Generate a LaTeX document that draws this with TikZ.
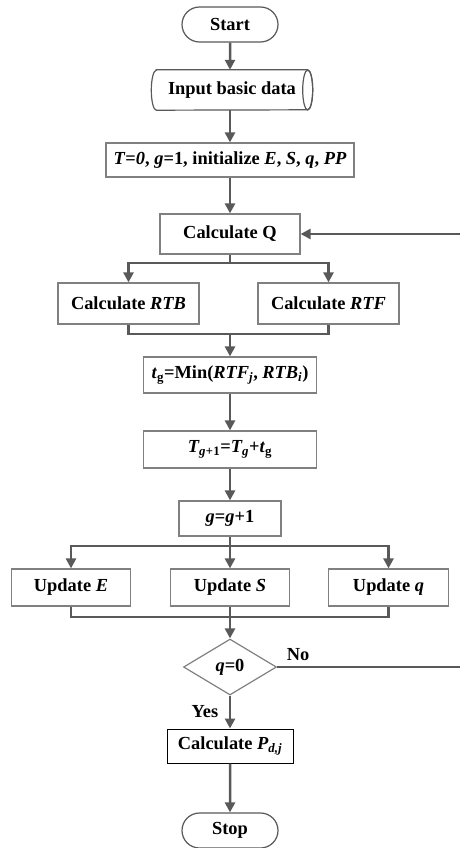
\documentclass[tikz,border=0pt]{standalone}
\usepackage{fontspec}
\setmainfont{Liberation Serif}
\usetikzlibrary{shapes,arrows.meta,positioning}
\definecolor{LineGray}{RGB}{89,89,89}
\definecolor{BoxGray}{RGB}{128,128,128}
\newcommand{\vi}[1]{\textit{#1}}

\begin{document}
\begin{tikzpicture}[x=1pt, y=-1pt,
    font=\fontsize{18.4}{22}\selectfont\bfseries,
    >={Triangle[length=10pt,width=10pt]},
    box/.style={draw=BoxGray, line width=1.2pt, fill=white, inner sep=0pt},
    term/.style={rounded rectangle, draw=LineGray, line width=1.2pt, fill=white,
      minimum width=96pt, minimum height=35pt, inner sep=0pt},
    outline/.style={draw=LineGray, line width=1.2pt},
    flow/.style={draw=LineGray, line width=2.5pt}]
    \useasboundingbox (0,0) rectangle (460,848);

    % main column
    \node[term] (start) at (230,24.5) {Start};
    \node[inner sep=0pt, minimum width=161pt, minimum height=40pt] (input) at (232,90) {Input basic data};
    \draw[outline] ([xshift=5pt]input.north west) -- ([xshift=-5pt]input.north east)
      arc (90:-90:5pt and 20pt) -- ([xshift=5pt]input.south west)
      arc (270:90:5pt and 20pt) -- cycle;
    \draw[outline] ([xshift=-5pt]input.east) ellipse (5pt and 20pt);
    \node[box, minimum width=248pt, minimum height=34pt] (init) at (230,160)
      {\vi{T}=\vi{0}, \vi{g}=1, initialize \vi{E}, \vi{S}, \vi{q}, \vi{PP}};
    \node[box, minimum width=140pt, minimum height=40pt] (calcQ) at (230,234) {Calculate Q};
    \node[box, minimum width=141pt, minimum height=41pt] (rtb) at (128.5,303.5) {Calculate \vi{RTB}};
    \node[box, minimum width=141pt, minimum height=41pt] (rtf) at (328.5,303.5) {Calculate \vi{RTF}};
    \node[box, minimum width=173pt, minimum height=36pt] (tg) at (230,375)
      {\vi{t}\textsubscript{g}=Min(\vi{RTF\textsubscript{j}}, \vi{RTB\textsubscript{i}})};
    \node[box, minimum width=173pt, minimum height=37pt] (tnext) at (230,449.5)
      {\vi{T\textsubscript{g+}}\textsubscript{1}=\vi{T\textsubscript{g}}+\vi{t}\textsubscript{g}};
    \node[box, minimum width=102pt, minimum height=35pt] (gnext) at (230,518.5) {\vi{g}=\vi{g}+1};
    \node[box, minimum width=119pt, minimum height=37pt] (upE) at (71,587.5) {Update \vi{E}};
    \node[box, minimum width=119pt, minimum height=37pt] (upS) at (230,587.5) {Update \vi{S}};
    \node[box, minimum width=120pt, minimum height=37pt] (upq) at (388.5,587.5) {Update \vi{q}};
    \node[diamond, draw=BoxGray, line width=1.2pt, fill=white, aspect=1.65,
      minimum width=93pt, minimum height=56pt, inner sep=0pt] (dec) at (230,667) {\vi{q}=0};
    \node[box, draw=black, line width=1pt, minimum width=126pt, minimum height=34pt] (pdj) at (230,746)
      {Calculate \vi{P\textsubscript{d,j}}};
    \node[term] (stop) at (230,830.5) {Stop};

    % branch and merge points
    \coordinate (split1) at (230,263);
    \coordinate (join1) at (230,334);
    \coordinate (split2) at (230,546);
    \coordinate (join2) at (230,617);
    \coordinate (noend) at (460,667);
    \coordinate (back) at (460,234);

    \draw[flow,->] (start) -- (input.north -| start);
    \draw[flow,->] (input.south -| start) -- (init);
    \draw[flow,->] (init) -- (calcQ);
    \draw[flow] (calcQ) -- (split1);
    \foreach \n in {rtb,rtf}
      \draw[flow,->] (split1) -| (\n);
    \draw[flow] (rtb.south) |- (join1) -| (rtf.south);
    \draw[flow,->] (join1) -- (tg);
    \draw[flow,->] (tg) -- (tnext);
    \draw[flow,->] (tnext) -- (gnext);
    \draw[flow] (gnext) -- (split2);
    \foreach \n in {upE,upS,upq}
      \draw[flow,->] (split2) -| (\n);
    \draw[flow] (upE.south) |- (join2) -| (upq.south);
    \draw[flow,->] (upS) -- (dec);

    % loop back
    \draw[flow] (dec.east) -- (noend);
    \draw[flow,->] (back) -- (calcQ.east);
    \node (no) at (298,655) {No};

    \draw[flow,->] (dec) -- (pdj);
    \node (yes) at (205,712) {Yes};
    \draw[flow,->] (pdj) -- (stop);
  \end{tikzpicture}
\end{document}
